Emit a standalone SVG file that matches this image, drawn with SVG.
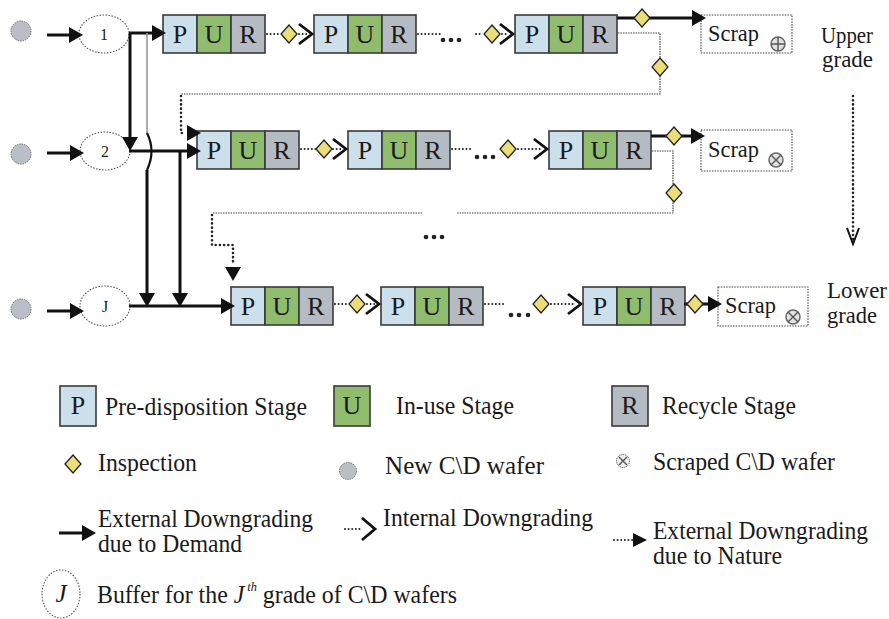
<svg xmlns="http://www.w3.org/2000/svg" xmlns:xlink="http://www.w3.org/1999/xlink" width="889" height="619" viewBox="0 0 889 619" font-family="'Liberation Serif', 'Times New Roman', 'DejaVu Serif', serif">
<style>
text{font-family:'Liberation Serif','Times New Roman','DejaVu Serif',serif;fill:#1a1a1a}
.cell{stroke:#3a3a3a;stroke-width:1.6}
.p{fill:#cbe0ea}.u{fill:#8fbd6d}.r{fill:#b5bbc3}
.lt{font-size:26px;text-anchor:middle}
.lg{font-size:25px}
.sc{font-size:24px}
.num{font-size:16px;text-anchor:middle}
.buf{fill:#fff;stroke:#555;stroke-width:1.1;stroke-dasharray:1.5 1.5}
.new{fill:#b9bec7;stroke:#666;stroke-width:1;stroke-dasharray:1.5 1}
.box{fill:#fff;stroke:#444;stroke-width:1.1;stroke-dasharray:1.5 1.2}
.thick{fill:none;stroke:#111;stroke-width:3}
.dots{fill:none;stroke:#222;stroke-width:2;stroke-linecap:round;stroke-dasharray:0.01 3.6}
.fine{fill:none;stroke:#444;stroke-width:1.2;stroke-dasharray:1.5 1}
.bold{fill:none;stroke:#222;stroke-width:2.6;stroke-linecap:round;stroke-dasharray:0.01 4.2}
.insp{fill:#ebdd78;stroke:#222;stroke-width:1.3}
.chev{fill:none;stroke:#111;stroke-width:2.8}
.bdot{fill:#222}
.ic{fill:#e2e2e2;stroke:#666;stroke-width:1.5}
.icl{stroke:#555;stroke-width:1.4}
</style>
<defs>
<marker id="tri" viewBox="0 0 14 16" refX="10" refY="8" markerWidth="14" markerHeight="16" markerUnits="userSpaceOnUse" orient="auto"><path d="M0,0 L14,8 L0,16 Z" fill="#111"/></marker>
<path id="dia" class="insp" d="M0,-9 L8,0 L0,9 L-8,0 Z"/>
<path id="chv" class="chev" d="M-14,-10 L-1,0 L-14,10"/>
<g id="blk">
<rect class="cell p" x="0" y="0" width="34" height="38"/>
<rect class="cell u" x="34" y="0" width="34" height="38"/>
<rect class="cell r" x="68" y="0" width="34" height="38"/>
<text class="lt" x="17" y="28">P</text>
<text class="lt" x="51" y="28">U</text>
<text class="lt" x="85" y="28">R</text>
</g>
</defs>
<rect width="889" height="619" fill="#fff"/>

<!-- new wafer sources -->
<g id="src1"><circle class="new" cx="21" cy="31" r="10"/></g>
<g id="src2"><circle class="new" cx="21" cy="154" r="10"/></g>
<g id="srcJ"><circle class="new" cx="21" cy="309" r="10"/></g>

<!-- buffers -->
<g id="buf1"><ellipse class="buf" cx="104" cy="34" rx="25" ry="19"/><text class="num" x="104" y="40">1</text></g>
<g id="buf2"><ellipse class="buf" cx="105" cy="151" rx="25" ry="19"/><text class="num" x="105" y="157">2</text></g>
<g id="bufJ"><ellipse class="buf" cx="105" cy="306" rx="25" ry="20"/><text class="num" x="105" y="312">J</text></g>

<!-- stage blocks -->
<g id="b1a"><use xlink:href="#blk" x="163" y="15"/></g>
<g id="b1b"><use xlink:href="#blk" x="314" y="15"/></g>
<g id="b1c"><use xlink:href="#blk" x="515" y="15"/></g>
<g id="b2a"><use xlink:href="#blk" x="197" y="131"/></g>
<g id="b2b"><use xlink:href="#blk" x="348" y="131"/></g>
<g id="b2c"><use xlink:href="#blk" x="549" y="131"/></g>
<g id="bJa"><use xlink:href="#blk" x="231" y="287"/></g>
<g id="bJb"><use xlink:href="#blk" x="381" y="287"/></g>
<g id="bJc"><use xlink:href="#blk" x="583" y="287"/></g>

<!-- scrap boxes -->
<g id="scrap1"><rect class="box" x="701" y="15" width="91" height="38"/><text class="sc" x="708" y="41" textLength="51" lengthAdjust="spacingAndGlyphs">Scrap</text>
<circle class="ic" cx="778" cy="44" r="7"/><path class="icl" d="M771,44 H785 M778,37 V51"/></g>
<g id="scrap2"><rect class="box" x="701" y="130" width="91" height="41"/><text class="sc" x="708" y="157" textLength="51" lengthAdjust="spacingAndGlyphs">Scrap</text>
<circle class="ic" cx="776" cy="160" r="7"/><path class="icl" d="M771,155 L781,165 M781,155 L771,165"/></g>
<g id="scrapJ"><rect class="box" x="718" y="287" width="90" height="39"/><text class="sc" x="725" y="313" textLength="51" lengthAdjust="spacingAndGlyphs">Scrap</text>
<circle class="ic" cx="793" cy="317" r="7"/><path class="icl" d="M788,312 L798,322 M798,312 L788,322"/></g>

<!-- grade labels -->
<g id="upper"><text class="sc" x="821" y="43" textLength="52" lengthAdjust="spacingAndGlyphs">Upper</text><text class="sc" x="822" y="67" textLength="51" lengthAdjust="spacingAndGlyphs">grade</text></g>
<g id="lower"><text class="sc" x="827" y="298" textLength="60" lengthAdjust="spacingAndGlyphs">Lower</text><text class="sc" x="827" y="323" textLength="50" lengthAdjust="spacingAndGlyphs">grade</text></g>

<g id="connectors">
<!-- sources to buffers -->
<path class="thick" d="M47,35 H79" marker-end="url(#tri)"/>
<path class="thick" d="M47,153 H80" marker-end="url(#tri)"/>
<path class="thick" d="M47,311 H80" marker-end="url(#tri)"/>
<!-- buffer outputs / external downgrading due to demand -->
<path class="thick" d="M129,33 H162" marker-end="url(#tri)"/>
<path class="thick" d="M130,33 V147" marker-end="url(#tri)"/>
<path d="M147,33 V133" fill="none" stroke="#9a9a9a" stroke-width="1.6"/>
<path d="M147,133 Q156,151 147,170" fill="none" stroke="#111" stroke-width="2.2"/>
<path class="thick" d="M147,170 V303" marker-end="url(#tri)"/>
<path class="thick" d="M129,151 H197" marker-end="url(#tri)"/>
<path class="thick" d="M180,151 V303" marker-end="url(#tri)"/>
<path class="thick" d="M129,306 H231" marker-end="url(#tri)"/>

<!-- row 1 internal -->
<path class="dots" d="M267,34 H281"/><use xlink:href="#dia" x="289" y="34"/><path class="dots" d="M299,34 H308"/><use xlink:href="#chv" x="313" y="34"/>
<path class="dots" d="M418,34 H440"/>
<circle class="bdot" cx="443" cy="40" r="2.3"/><circle class="bdot" cx="451" cy="40" r="2.3"/><circle class="bdot" cx="459" cy="40" r="2.3"/>
<path class="dots" d="M476,34 H483"/><use xlink:href="#dia" x="492" y="34"/><path class="dots" d="M502,34 H509"/><use xlink:href="#chv" x="514" y="34"/>
<path class="thick" d="M617,18 H702" marker-end="url(#tri)"/><use xlink:href="#dia" x="642" y="18"/>
<!-- row 1 external downgrading due to nature -->
<path class="fine" d="M618,33 H660 V94 H181"/>
<use xlink:href="#dia" x="660" y="67"/>
<path class="bold" d="M181,96 V133 H186"/>
<path d="M186,133 H197" fill="none" stroke="#111" stroke-width="0" marker-end="url(#tri)"/>

<!-- row 2 internal -->
<path class="dots" d="M301,149 H316"/><use xlink:href="#dia" x="324" y="149"/><path class="dots" d="M333,149 H342"/><use xlink:href="#chv" x="347" y="149"/>
<path class="dots" d="M452,149 H472"/>
<circle class="bdot" cx="477" cy="157" r="2.3"/><circle class="bdot" cx="485" cy="157" r="2.3"/><circle class="bdot" cx="493" cy="157" r="2.3"/>
<use xlink:href="#dia" x="508" y="149"/><path class="dots" d="M518,149 H542"/><use xlink:href="#chv" x="548" y="149"/>
<path class="thick" d="M651,136 H701" marker-end="url(#tri)"/><use xlink:href="#dia" x="674" y="136"/>
<!-- row 2 external downgrading due to nature -->
<path class="fine" d="M652,151 H673 V213 H457 M422,213 H212"/>
<use xlink:href="#dia" x="674" y="193"/>
<path class="bold" d="M212,215 V245 H233 V262"/>
<path d="M233,262 V277" fill="none" stroke="#111" stroke-width="0" marker-end="url(#tri)"/>
<circle class="bdot" cx="426" cy="237" r="2.3"/><circle class="bdot" cx="434" cy="237" r="2.3"/><circle class="bdot" cx="442" cy="237" r="2.3"/>

<!-- row J internal -->
<path class="dots" d="M335,304 H349"/><use xlink:href="#dia" x="357" y="304"/><path class="dots" d="M367,304 H375"/><use xlink:href="#chv" x="380" y="304"/>
<path class="dots" d="M485,304 H505"/>
<circle class="bdot" cx="511" cy="315" r="2.3"/><circle class="bdot" cx="519" cy="315" r="2.3"/><circle class="bdot" cx="528" cy="315" r="2.3"/>
<use xlink:href="#dia" x="541" y="304"/><path class="dots" d="M551,304 H576"/><use xlink:href="#chv" x="582" y="304"/>
<path class="thick" d="M684,304 H718" marker-end="url(#tri)"/><use xlink:href="#dia" x="695" y="304"/>

<!-- grade direction -->
<path class="bold" d="M853,96 V240"/>
<path d="M847,228 L853,244 L859,228" fill="none" stroke="#111" stroke-width="2"/>
</g>

<!-- legend -->
<g id="legend">
<g id="lgP"><rect class="cell p" x="60" y="386" width="36" height="40"/><text class="lt" x="78" y="414">P</text><text class="lg" x="105" y="415" textLength="202" lengthAdjust="spacingAndGlyphs">Pre-disposition Stage</text></g>
<g id="lgU"><rect class="cell u" x="334" y="386" width="36" height="40"/><text class="lt" x="352" y="414">U</text><text class="lg" x="396" y="414" textLength="118" lengthAdjust="spacingAndGlyphs">In-use Stage</text></g>
<g id="lgR"><rect class="cell r" x="612" y="386" width="36" height="40"/><text class="lt" x="630" y="414">R</text><text class="lg" x="662" y="414" textLength="134" lengthAdjust="spacingAndGlyphs">Recycle Stage</text></g>
<g id="lgI"><use xlink:href="#dia" x="73" y="464"/><text class="lg" x="98" y="471" textLength="99" lengthAdjust="spacingAndGlyphs">Inspection</text></g>
<g id="lgN"><circle class="new" cx="348" cy="471" r="8.5"/><text class="lg" x="385" y="474" textLength="159" lengthAdjust="spacingAndGlyphs">New C\D wafer</text></g>
<g id="lgS"><circle cx="623" cy="461" r="6.5" fill="#eee" stroke="#555" stroke-width="1" stroke-dasharray="1.2 0.8"/><path class="icl" d="M619,457 L627,465 M627,457 L619,465" stroke-width="1"/><text class="lg" x="653" y="470" textLength="182" lengthAdjust="spacingAndGlyphs">Scraped C\D wafer</text></g>
<g id="lgD"><path class="thick" d="M59,533 H92" marker-end="url(#tri)"/><text class="lg" x="98" y="527" textLength="215" lengthAdjust="spacingAndGlyphs">External Downgrading</text><text class="lg" x="98" y="552" textLength="144" lengthAdjust="spacingAndGlyphs">due to Demand</text></g>
<g id="lgIn"><path class="dots" d="M345,529 H362" stroke-width="1.8" stroke-dasharray="0.01 3"/><path class="chev" d="M362,518 L375,529 L362,540" stroke-width="2.8"/><text class="lg" x="383" y="526" textLength="210" lengthAdjust="spacingAndGlyphs">Internal Downgrading</text></g>
<g id="lgNa"><path class="dots" d="M614,540 H634" stroke-width="1.8" stroke-dasharray="0.01 3"/><path d="M633,533 L647,540 L633,547 Z" fill="#111"/><text class="lg" x="653" y="539" textLength="215" lengthAdjust="spacingAndGlyphs">External Downgrading</text><text class="lg" x="653" y="564" textLength="129" lengthAdjust="spacingAndGlyphs">due to Nature</text></g>
<g id="lgB"><ellipse class="buf" cx="61" cy="594" rx="19" ry="24"/><text class="lg" x="61" y="602" text-anchor="middle" font-style="italic">J</text>
<text class="lg" x="97" y="603" textLength="360" lengthAdjust="spacingAndGlyphs">Buffer for the <tspan font-style="italic">J</tspan><tspan font-style="italic" font-size="13" dx="3" dy="-12">th</tspan><tspan dy="12"> grade of C\D wafers</tspan></text></g>
</g>
</svg>
